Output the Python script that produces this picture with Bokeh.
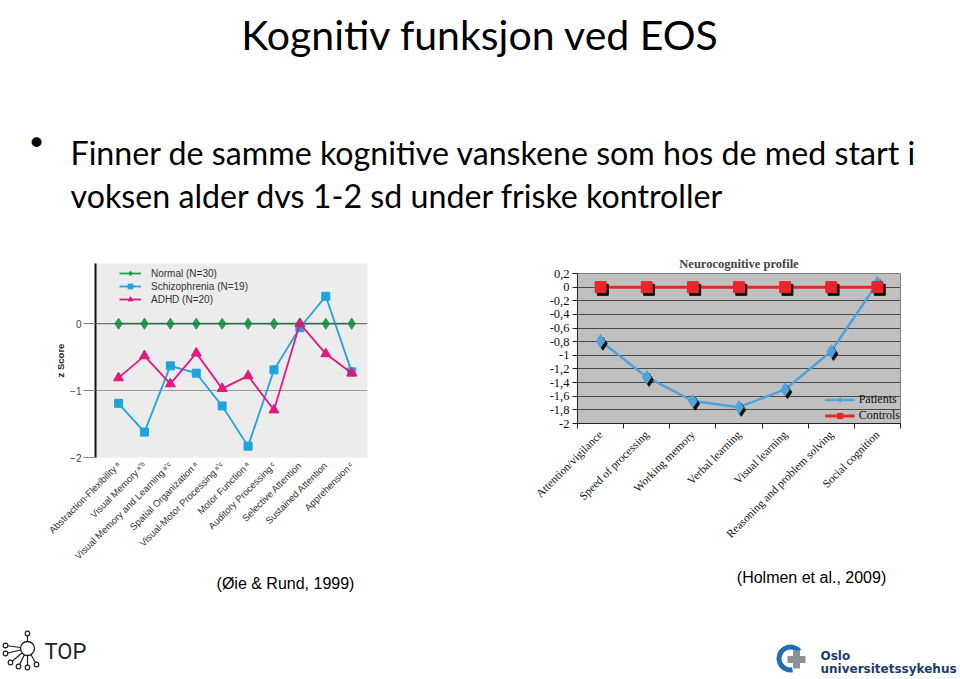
import math
from bokeh.plotting import figure
from bokeh.layouts import column, row
from bokeh.models import Range1d, FixedTicker, Legend, LegendItem, Span
from bokeh.transform import dodge
from bokeh.core.properties import value
from bokeh.embed import file_html
from bokeh.resources import INLINE

# ---------------- data ----------------
TITLE = "Kognitiv funksjon ved EOS"
BULLET_LINES = [
    "Finner de samme kognitive vanskene som hos de med start i",
    "voksen alder dvs 1-2 sd under friske kontroller",
]
CAPTION_LEFT = "(Øie & Rund, 1999)"
CAPTION_RIGHT = "(Holmen et al., 2009)"

left_categories = [
    "Abstraction-Flexibility\u2009ᵃ",
    "Visual Memory\u2009ᵃʼᵇ",
    "Visual Memory and Learning\u2009ᵃʼᶜ",
    "Spatial Organization\u2009ᵃ",
    "Visual-Motor Processing\u2009ᵃʼᶜ",
    "Motor Function\u2009ᵃ",
    "Auditory Processing\u2009ᶜ",
    "Selective Attention",
    "Sustained Attention",
    "Apprehension\u2009ᶜ",
]
normal_z = [0, 0, 0, 0, 0, 0, 0, 0, 0, 0]
schizo_z = [-1.19, -1.62, -0.63, -0.74, -1.23, -1.83, -0.69, -0.06, 0.41, -0.72]
adhd_z = [-0.81, -0.48, -0.90, -0.44, -0.97, -0.78, -1.29, 0.0, -0.45, -0.74]
left_y_ticks = [0, -1, -2]
left_series_names = ["Normal (N=30)", "Schizophrenia (N=19)", "ADHD (N=20)"]

right_categories = [
    "Attention/vigilance",
    "Speed of processing",
    "Working memory",
    "Verbal learning",
    "Visual learning",
    "Reasoning and problem solving",
    "Social cognition",
]
patients = [-0.79, -1.32, -1.67, -1.76, -1.50, -0.94, 0.06]
controls = [0, 0, 0, 0, 0, 0, 0]
right_y_ticks = [0.2, 0, -0.2, -0.4, -0.6, -0.8, -1, -1.2, -1.4, -1.6, -1.8, -2]
right_y_labels = ["0,2", "0", "-0,2", "-0,4", "-0,6", "-0,8", "-1", "-1,2", "-1,4", "-1,6", "-1,8", "-2"]
right_title = "Neurocognitive profile"
right_series_names = ["Patients", "Controls"]

SANS = "Lato"
ARIAL = "Liberation Sans"
SERIF = "Liberation Serif"


def blank(width, height, y0, y1):
    f = figure(width=width, height=height, x_range=Range1d(0, width), y_range=Range1d(y1, y0),
               output_backend="svg", toolbar_location=None, min_border=0)
    f.axis.visible = False
    f.grid.visible = False
    f.outline_line_color = None
    f.background_fill_color = "white"
    f.border_fill_color = "white"
    return f


# ---------------- header ----------------
hdr = blank(960, 250, 0, 250)
hdr.text(x=[480], y=[34], text=[TITLE], text_font=value(SANS), text_font_size="41px",
         text_align="center", text_baseline="alphabetic", text_color="#000000")
hdr.text(x=[26], y=[142], text=["•"], text_font=value("DejaVu Sans"), text_font_size="34px",
         text_align="left", text_baseline="middle", text_color="#000000")
hdr.text(x=[70, 70], y=[152, 195], text=BULLET_LINES, text_font=value(SANS), text_font_size="32.2px",
         text_align="left", text_baseline="alphabetic", text_color="#000000")

# ---------------- left chart ----------------
lx = list(range(len(left_categories)))
p1 = figure(width=380, height=318, x_range=Range1d(-0.89, 9.61), y_range=Range1d(-2, 0.9),
            output_backend="svg", toolbar_location=None,
            min_border_left=95, min_border_right=13, min_border_top=13, min_border_bottom=111)
p1.background_fill_color = "#ececec"
p1.outline_line_color = None
p1.xgrid.visible = False
p1.ygrid.ticker = FixedTicker(ticks=[-1])
p1.ygrid.grid_line_color = "#9a9a9a"
p1.add_layout(Span(location=0, dimension="width", line_color="#555555", line_width=1))

p1.yaxis.ticker = FixedTicker(ticks=left_y_ticks)
p1.yaxis.axis_line_color = "#111111"
p1.yaxis.axis_line_width = 2
p1.yaxis.major_tick_out = 12
p1.yaxis.major_tick_in = 0
p1.yaxis.major_tick_line_color = "#888888"
p1.yaxis.minor_tick_line_color = None
p1.yaxis.major_label_text_font = ARIAL
p1.yaxis.major_label_text_font_size = "10px"
p1.yaxis.major_label_text_color = "#444444"
p1.yaxis.major_label_standoff = 2
p1.yaxis.axis_label = "z Score"
p1.yaxis.axis_label_text_font = ARIAL
p1.yaxis.axis_label_text_font_size = "9.5px"
p1.yaxis.axis_label_text_font_style = "bold"
p1.yaxis.axis_label_text_color = "#222222"
p1.yaxis.axis_label_standoff = 1

p1.xaxis.ticker = FixedTicker(ticks=lx)
p1.xaxis.major_label_overrides = {i: c for i, c in zip(lx, left_categories)}
p1.xaxis.major_label_orientation = math.pi / 4
p1.xaxis.axis_line_color = None
p1.xaxis.major_tick_line_color = None
p1.xaxis.minor_tick_line_color = None
p1.xaxis.major_label_text_font = ARIAL
p1.xaxis.major_label_text_font_size = "9.6px"
p1.xaxis.major_label_text_color = "#333333"
p1.xaxis.major_label_standoff = 0

c_norm, c_sch, c_adhd = "#1aa24b", "#1ea3df", "#e2197f"
ln = p1.line(lx, normal_z, line_color=c_norm, line_width=1.8)
mn = p1.scatter(lx, normal_z, marker="diamond", size=11, fill_color=c_norm, line_color=c_norm)
ls = p1.line(lx, schizo_z, line_color=c_sch, line_width=1.8)
ms = p1.scatter(lx, schizo_z, marker="square", size=8, fill_color=c_sch, line_color=c_sch)
la = p1.line(lx, adhd_z, line_color=c_adhd, line_width=1.8)
ma = p1.scatter(lx, adhd_z, marker="triangle", size=10, fill_color=c_adhd, line_color=c_adhd)

leg1 = Legend(items=[
    LegendItem(label=left_series_names[0], renderers=[ln, mn]),
    LegendItem(label=left_series_names[1], renderers=[ls, ms]),
    LegendItem(label=left_series_names[2], renderers=[la, ma]),
], location=(24, 152))
leg1.background_fill_alpha = 0
leg1.border_line_color = None
leg1.padding = 2
leg1.margin = 0
leg1.spacing = 1
leg1.glyph_width = 22
leg1.glyph_height = 12
leg1.label_height = 12
leg1.label_standoff = 10
leg1.label_text_font = ARIAL
leg1.label_text_font_size = "10px"
leg1.label_text_color = "#333333"
p1.add_layout(leg1)

# ---------------- right chart ----------------
xr = [i + 0.5 for i in range(len(right_categories))]
p2 = figure(width=580, height=310, x_range=Range1d(0, len(right_categories)), y_range=Range1d(-2, 0.2),
            output_backend="svg", toolbar_location=None,
            min_border_left=197, min_border_right=60, min_border_top=23, min_border_bottom=137)
p2.background_fill_color = "#c0c0c0"
p2.outline_line_color = "#808080"
p2.xgrid.visible = False
p2.ygrid.ticker = FixedTicker(ticks=right_y_ticks)
p2.ygrid.grid_line_color = "#4a4a4a"
p2.ygrid.grid_line_width = 1

p2.title.text = right_title
p2.title.align = "center"
p2.title.text_font = SERIF
p2.title.text_font_size = "12.5px"
p2.title.text_font_style = "bold"
p2.title.standoff = 5

p2.yaxis.ticker = FixedTicker(ticks=right_y_ticks)
p2.yaxis.major_label_overrides = {t: s for t, s in zip(right_y_ticks, right_y_labels)}
p2.yaxis.axis_line_color = "#222222"
p2.yaxis.major_tick_out = 5
p2.yaxis.major_tick_in = 0
p2.yaxis.major_tick_line_color = "#222222"
p2.yaxis.minor_tick_line_color = None
p2.yaxis.major_label_text_font = SERIF
p2.yaxis.major_label_text_font_size = "12.5px"
p2.yaxis.major_label_text_color = "#111111"
p2.yaxis.major_label_standoff = 3

p2.xaxis.ticker = FixedTicker(ticks=xr, minor_ticks=list(range(len(right_categories) + 1)))
p2.xaxis.major_label_overrides = {t: c for t, c in zip(xr, right_categories)}
p2.xaxis.major_label_orientation = math.pi / 4
p2.xaxis.axis_line_color = "#222222"
p2.xaxis.major_tick_line_color = None
p2.xaxis.minor_tick_out = 5
p2.xaxis.minor_tick_in = 0
p2.xaxis.minor_tick_line_color = "#222222"
p2.xaxis.major_label_text_font = SERIF
p2.xaxis.major_label_text_font_size = "11.5px"
p2.xaxis.major_label_text_color = "#111111"
p2.xaxis.major_label_standoff = 3

c_pat, c_con = "#4fa3dc", "#e8262b"
src_pat = dict(x=xr, y=patients)
src_con = dict(x=xr, y=controls)
lp = p2.line("x", "y", source=src_pat, line_color=c_pat, line_width=2.5)
lc = p2.line("x", "y", source=src_con, line_color=c_con, line_width=3)
p2.scatter(x=dodge("x", 0.05, range=p2.x_range), y=dodge("y", -0.04, range=p2.y_range), source=src_pat,
           marker="diamond", size=13, fill_color="#111111", line_color="#111111")
mp = p2.scatter("x", "y", source=src_pat, marker="diamond", size=13, fill_color=c_pat, line_color=c_pat)
p2.scatter(x=dodge("x", 0.05, range=p2.x_range), y=dodge("y", -0.04, range=p2.y_range), source=src_con,
           marker="square", size=11, fill_color="#111111", line_color="#111111")
mc = p2.scatter("x", "y", source=src_con, marker="square", size=11, fill_color=c_con, line_color=c_con)

leg2 = Legend(items=[
    LegendItem(label=right_series_names[0], renderers=[lp, mp]),
    LegendItem(label=right_series_names[1], renderers=[lc, mc]),
], location="bottom_right")
leg2.background_fill_alpha = 0
leg2.border_line_color = None
leg2.padding = 2
leg2.margin = 0
leg2.spacing = 1
leg2.glyph_width = 30
leg2.glyph_height = 13
leg2.label_height = 13
leg2.label_standoff = 4
leg2.label_text_font = SERIF
leg2.label_text_font_size = "12px"
leg2.label_text_color = "#111111"
p2.add_layout(leg2)

# ---------------- footer ----------------
ftr = blank(960, 111, 568, 679)
ftr.text(x=[285, 811], y=[583, 577], text=[CAPTION_LEFT, CAPTION_RIGHT], text_font=value(ARIAL),
         text_font_size="16px", text_align="center", text_baseline="middle", text_color="#000000")

# TOP logo (decorative)
hub_x, hub_y = 27, 648
nodes_x = [27, 5, 5, 10, 18, 27, 36]
nodes_y = [633, 645, 653, 662, 666, 667, 664]
ftr.segment(x0=[hub_x] * 7, y0=[hub_y] * 7, x1=nodes_x, y1=nodes_y, line_color="#222222", line_width=1.2)
ftr.circle(x=[hub_x], y=[hub_y], radius=7, fill_color="white", line_color="#222222", line_width=1.3)
ftr.circle(x=nodes_x, y=nodes_y, radius=2.3, fill_color="white", line_color="#222222", line_width=1.2)
ftr.text(x=[44], y=[651], text=["TOP"], text_font=value("Roboto"), text_font_size="22px",
         text_font_style="normal", text_align="left", text_baseline="middle", text_color="#222222")

# Oslo universitetssykehus logo (decorative)
ftr.annular_wedge(x=[790], y=[658], inner_radius=9, outer_radius=14, start_angle=math.radians(40),
                  end_angle=math.radians(280), direction="anticlock", fill_color="#1f6fb4", line_color=None)
ftr.rect(x=[796], y=[659], width=18, height=7, fill_color="#8c9196", line_color=None)
ftr.rect(x=[796], y=[659], width=7, height=18, fill_color="#8c9196", line_color=None)
ftr.text(x=[820, 820], y=[655, 668], text=["Oslo", "universitetssykehus"], text_font=value("DejaVu Sans"),
         text_font_size="12px", text_font_style="bold", text_align="left", text_baseline="middle",
         text_color="#1d3c6e")

layout = column(hdr, row(column(p1), column(p2)), ftr)
open("out.html", "w").write(file_html(layout, INLINE))
